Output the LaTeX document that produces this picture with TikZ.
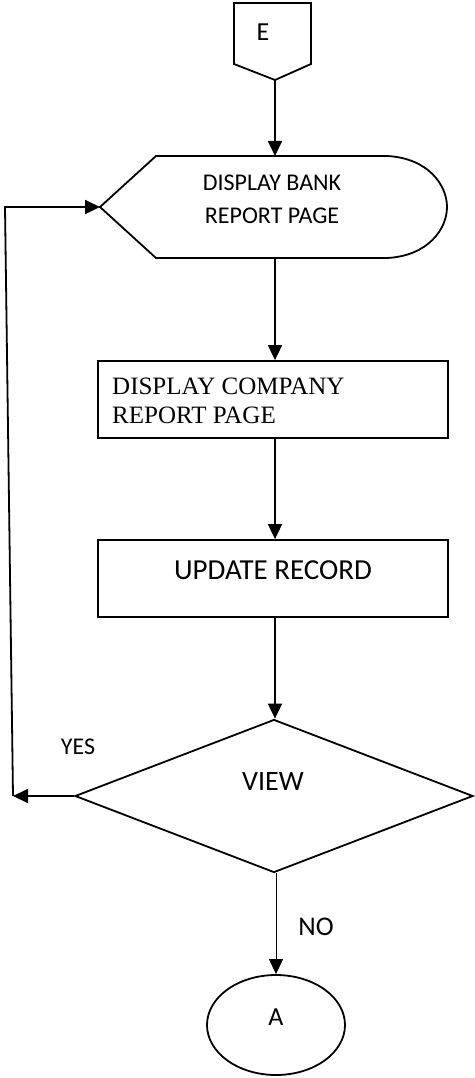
\documentclass[tikz,border=0pt]{standalone}
\usepackage{fontspec}
\setmainfont{Carlito}
\newfontfamily\timesfont{Liberation Serif}
\usetikzlibrary{shapes.geometric,arrows.meta}

\tikzset{
  outline/.style={draw, line width=1.8pt},
  flow/.style={line width=1.8pt, -{Triangle[length=15pt,width=14pt]}},
  procbox/.style={outline, rectangle, minimum width=350pt, minimum height=77pt, inner sep=0pt},
}

\begin{document}
\begin{tikzpicture}[x=1pt, y=-1pt]
\useasboundingbox (0,0) rectangle (474,1078);

% off-page connector E
\draw[outline] (234,3) -- (311,3) -- (311,64) -- (275,80) -- (234,64) -- cycle;
\coordinate (etip) at (275,80);
\node[font=\fontsize{26}{30}\selectfont] (e) at (263,32) {E};

% display: bank report page
\draw[outline] (100,207) -- (156,156) -- (387,156)
  .. controls (428,158) and (447,185) .. (447,207)
  .. controls (447,229) and (428,256) .. (387,258) -- (156,258) -- cycle;
\coordinate (disp-in) at (100,207);
\coordinate (disp-top) at (275,156);
\coordinate (disp-bot) at (275,258);
\node[align=center, font=\fontsize{24}{33}\selectfont] (disp) at (272,199) {DISPLAY BANK\\REPORT PAGE};

% process boxes
\node[procbox] (company) at (273,399.5) {};
\node[font=\timesfont\fontsize{25}{29}\selectfont, align=left, anchor=north west, inner sep=0pt] (companytxt) at (112,378) {DISPLAY COMPANY\\REPORT PAGE};

\node[procbox] (update) at (273,578.5) {};
\node[font=\fontsize{29}{34}\selectfont] (updatetxt) at (273,570) {UPDATE RECORD};

% decision
\node[diamond, outline, minimum width=398pt, minimum height=153pt, inner sep=0pt] (view) at (274,796) {};
\node[font=\fontsize{28}{32}\selectfont] (viewtxt) at (273,782) {VIEW};

% connector A
\node[ellipse, outline, minimum width=138pt, minimum height=100pt, inner sep=0pt] (a) at (276,1025) {};
\node[font=\fontsize{26}{30}\selectfont] (atxt) at (276,1017) {A};

% branch labels
\node[font=\fontsize{24}{28}\selectfont] (yes) at (78,747) {YES};
\node[font=\fontsize{27}{30}\selectfont] (no) at (316,927) {NO};

% main flow
\draw[flow] (etip) -- (disp-top);
\draw[flow] (disp-bot) -- (company.north -| disp-bot);
\draw[flow] (company.south -| disp-bot) -- (update.north -| disp-bot);
\draw[flow] (update.south -| disp-bot) -- (view.north -| disp-bot);
\draw[flow, line width=1pt] (view.south -| a.north) -- (a.north);

% yes: back to the display
\coordinate (loopbot) at (13,796);
\coordinate (looptop) at (5,207);
\draw[flow] (view.west) -- (loopbot);
\draw[flow] (loopbot) -- (looptop) -- (disp-in);
\end{tikzpicture}
\end{document}
